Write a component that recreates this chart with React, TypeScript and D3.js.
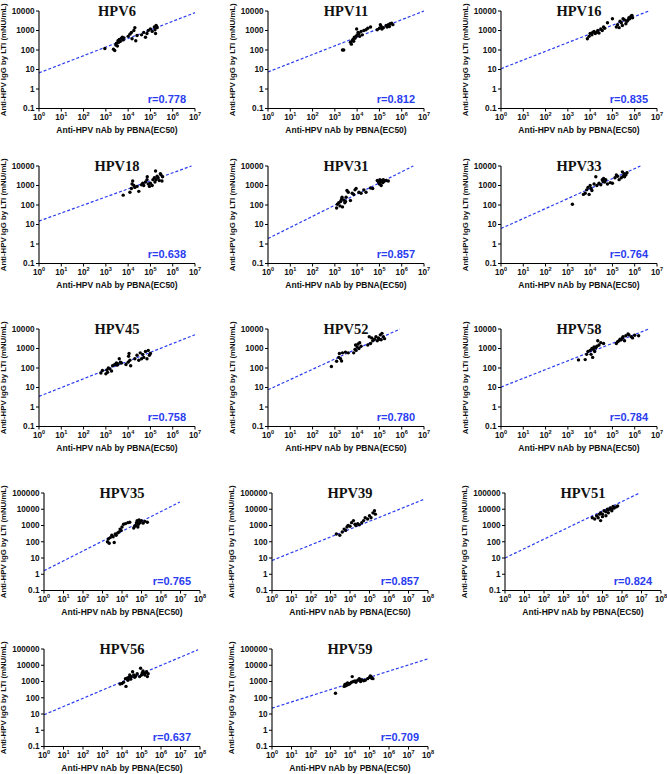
import React from 'react';
import * as d3 from 'd3';

type Pt = [number, number];

const panelNames = ['HPV6', 'HPV11', 'HPV16', 'HPV18', 'HPV31', 'HPV33', 'HPV45', 'HPV52', 'HPV58', 'HPV35', 'HPV39', 'HPV51', 'HPV56', 'HPV59'];
const rValues = ['0.778', '0.812', '0.835', '0.638', '0.857', '0.764', '0.758', '0.780', '0.784', '0.765', '0.857', '0.824', '0.637', '0.709'];
const xMaxExp = [7, 7, 7, 7, 7, 7, 7, 7, 7, 8, 8, 8, 8, 8];
const yMaxExp = [4, 4, 4, 4, 4, 4, 4, 4, 4, 5, 5, 5, 5, 5];
const lineStart: Pt[] = [[1, 6.7], [1, 7.5], [1, 11], [1, 15], [1, 1.9], [1, 6.2], [1, 3.5], [1, 7.6], [1, 10.5], [1, 1.65], [1, 7], [1, 10], [1, 9], [1, 23]];
const lineEnd: Pt[] = [[1e7, 8200], [1e7, 10000], [4.3e6, 10000], [7e6, 10000], [3.3e6, 10000], [1.8e6, 10000], [1e7, 5100], [8.3e5, 10000], [4.3e6, 10000], [9.3e6, 28000], [6e7, 40000], [8e6, 100000], [8e7, 90000], [1e8, 25000]];

const hpv6: Pt[] = [[900, 120], [2200, 110], [2500, 95], [2800, 180], [3000, 220], [3300, 160], [3500, 300], [3800, 250], [4000, 350], [4500, 280], [5000, 400], [5500, 450], [6000, 330], [6500, 420], [10000, 500], [12000, 650], [14000, 800], [15000, 380], [18000, 1000], [20000, 1400], [22000, 300], [25000, 550], [40000, 600], [50000, 800], [60000, 450], [70000, 700], [80000, 1000], [100000, 1200], [120000, 900], [150000, 1500], [160000, 1100], [180000, 1800], [200000, 1400], [170000, 700], [190000, 1600]];
const hpv11: Pt[] = [[2200, 100], [2500, 100], [5000, 250], [5500, 200], [6000, 300], [6500, 350], [7000, 280], [7500, 450], [8000, 400], [9000, 500], [9500, 1200], [10000, 600], [11000, 800], [12000, 700], [13000, 500], [15000, 900], [17000, 600], [20000, 1000], [25000, 1100], [30000, 1300], [40000, 1500], [80000, 1100], [100000, 1300], [110000, 2000], [120000, 1600], [130000, 1200], [150000, 1400], [200000, 1800], [220000, 1500], [250000, 2000], [280000, 1600], [300000, 2200], [350000, 2400], [400000, 2000]];
const hpv16: Pt[] = [[7500, 380], [9000, 500], [10000, 700], [12000, 600], [13000, 800], [15000, 900], [17000, 700], [20000, 800], [22000, 1000], [25000, 750], [30000, 1200], [35000, 1000], [40000, 1500], [45000, 1300], [60000, 2500], [100000, 4000], [150000, 1500], [170000, 2000], [200000, 1400], [220000, 3000], [250000, 2500], [280000, 1800], [300000, 4000], [350000, 3500], [400000, 2200], [450000, 3000], [500000, 3500], [550000, 4500], [600000, 4000], [650000, 5000], [700000, 5500], [750000, 6000], [800000, 4500]];
const hpv18: Pt[] = [[6000, 320], [12000, 450], [14000, 700], [15000, 1200], [16000, 1700], [18000, 1000], [20000, 800], [25000, 900], [30000, 500], [40000, 1100], [45000, 1300], [50000, 1000], [60000, 1500], [70000, 2000], [72000, 2800], [80000, 1200], [90000, 900], [100000, 1300], [120000, 1000], [130000, 2000], [150000, 2500], [160000, 1500], [170000, 5500], [180000, 2000], [200000, 3000], [220000, 2500], [250000, 1800], [280000, 4000], [300000, 3500], [330000, 1700], [350000, 2800]];
const hpv31: Pt[] = [[1200, 70], [1300, 110], [1500, 130], [1700, 90], [1800, 150], [2000, 200], [2100, 250], [2200, 80], [2500, 180], [2800, 130], [3000, 150], [3200, 250], [3500, 550], [4000, 450], [5000, 170], [6000, 400], [7000, 350], [8000, 600], [9000, 700], [12000, 450], [15000, 400], [20000, 600], [25000, 450], [40000, 750], [50000, 700], [80000, 1800], [90000, 1500], [100000, 1200], [105000, 2000], [110000, 1600], [120000, 1000], [130000, 1800], [140000, 1400], [150000, 2000], [160000, 1600], [200000, 1800], [250000, 1700]];
const hpv33: Pt[] = [[1600, 110], [5000, 350], [6000, 400], [7000, 600], [8000, 800], [9000, 350], [10000, 1000], [11000, 700], [12000, 550], [15000, 1200], [18000, 2800], [20000, 1000], [25000, 1300], [30000, 1100], [35000, 2000], [38000, 1600], [40000, 2300], [42000, 1800], [45000, 1500], [50000, 2000], [60000, 1200], [80000, 1400], [100000, 1300], [130000, 2500], [150000, 3500], [170000, 3000], [200000, 2000], [250000, 2500], [280000, 5000], [300000, 3000], [330000, 4000], [350000, 2800], [400000, 3500], [450000, 4500]];
const hpv45: Pt[] = [[600, 55], [700, 75], [1000, 50], [1100, 80], [1200, 60], [1300, 100], [1500, 90], [1800, 70], [2000, 130], [2500, 150], [3000, 180], [3200, 140], [3500, 160], [4000, 300], [4500, 200], [5000, 180], [8000, 150], [10000, 200], [10500, 400], [11000, 550], [12000, 250], [13000, 130], [20000, 300], [25000, 450], [30000, 250], [35000, 600], [40000, 300], [45000, 500], [50000, 350], [60000, 700], [70000, 300], [80000, 800], [90000, 450], [100000, 550]];
const hpv52: Pt[] = [[700, 120], [1200, 220], [1500, 350], [1600, 550], [1800, 300], [2000, 230], [2200, 600], [3000, 650], [4000, 600], [7000, 600], [8000, 900], [8500, 1500], [9000, 800], [10000, 1200], [11000, 1700], [12000, 1000], [13000, 2000], [15000, 1300], [30000, 1500], [35000, 4000], [40000, 1800], [45000, 3500], [50000, 2500], [60000, 3000], [70000, 4000], [80000, 2500], [90000, 3500], [100000, 3000], [110000, 5000], [120000, 2800], [130000, 6000], [150000, 4000], [170000, 3200]];
const hpv58: Pt[] = [[3000, 260], [6000, 270], [7000, 500], [8000, 700], [10000, 800], [11000, 500], [12000, 1000], [13000, 350], [14000, 900], [15000, 1200], [16000, 700], [18000, 1100], [20000, 1300], [22000, 2500], [25000, 1500], [30000, 2000], [40000, 1800], [150000, 1800], [170000, 2200], [200000, 2500], [220000, 3000], [250000, 2800], [280000, 3500], [300000, 4000], [350000, 2500], [400000, 4500], [500000, 5500], [550000, 5000], [700000, 4000], [800000, 3500], [1000000, 4800], [1500000, 4500]];
const hpv35: Pt[] = [[1800, 100], [2000, 150], [2200, 80], [2500, 180], [3000, 250], [3500, 200], [4000, 90], [4500, 300], [5000, 250], [6000, 350], [7000, 400], [8000, 600], [9000, 500], [10000, 800], [12000, 1200], [15000, 1300], [20000, 1500], [25000, 1600], [40000, 700], [45000, 900], [50000, 1000], [55000, 1500], [60000, 2000], [65000, 800], [70000, 1200], [75000, 2200], [80000, 1500], [90000, 1800], [100000, 2000], [120000, 1400], [150000, 1800], [200000, 1600]];
const hpv39: Pt[] = [[2000, 300], [3000, 250], [4000, 400], [5000, 600], [6000, 500], [7000, 800], [8000, 1000], [10000, 900], [12000, 1500], [15000, 2000], [18000, 1200], [20000, 1000], [25000, 1300], [30000, 1100], [40000, 1500], [50000, 2000], [60000, 3000], [80000, 2500], [100000, 4000], [120000, 3000], [150000, 6000], [200000, 5000], [180000, 8000]];
const hpv51: Pt[] = [[30000, 3000], [40000, 2500], [50000, 4000], [60000, 3000], [70000, 5000], [80000, 6000], [100000, 5000], [120000, 8000], [150000, 7000], [180000, 10000], [200000, 9000], [250000, 12000], [300000, 10000], [350000, 15000], [400000, 12000], [500000, 14000], [600000, 16000], [100000, 3500], [150000, 4000], [80000, 2000], [200000, 6000], [300000, 8000]];
const hpv56: Pt[] = [[8000, 700], [10000, 750], [12000, 900], [15000, 1500], [16000, 500], [18000, 1600], [20000, 1200], [22000, 1800], [25000, 2500], [28000, 1400], [30000, 2000], [35000, 4000], [40000, 2500], [45000, 1800], [50000, 2200], [60000, 3000], [80000, 2000], [90000, 6500], [100000, 2500], [110000, 3500], [120000, 4500], [130000, 3000], [150000, 2500], [160000, 3500], [180000, 4000], [200000, 2000], [220000, 3000]];
const hpv59: Pt[] = [[1800, 190], [5000, 500], [5500, 650], [6000, 550], [6500, 700], [7000, 600], [7500, 800], [8000, 650], [9000, 700], [10000, 750], [12000, 900], [13000, 2000], [15000, 1000], [18000, 1100], [20000, 900], [25000, 1200], [30000, 1500], [35000, 1000], [40000, 1300], [50000, 1100], [60000, 1200], [80000, 1500], [100000, 1800], [110000, 2200], [120000, 2000], [130000, 1600], [150000, 1500]];

const panelData: Pt[][] = [hpv6, hpv11, hpv16, hpv18, hpv31, hpv33, hpv45, hpv52, hpv58, hpv35, hpv39, hpv51, hpv56, hpv59];

const yTitle = 'Anti-HPV IgG by LTI (mNU/mL)';
const xTitle = 'Anti-HPV nAb by PBNA(EC50)';

const BLUE = '#2a3cf0';
const SANS = '"Liberation Sans", Arial, sans-serif';
const SERIF = '"Liberation Serif", "Times New Roman", serif';
const W = 156;
const H = 97.5;
const rowTops = [11, 166, 329, 493, 649];
const colLeftsA = [39, 268, 501];
const colLeftsB = [44, 272, 505];

function Panel({ idx }: { idx: number }) {
  const row = Math.floor(idx / 3);
  const col = idx % 3;
  const left = row < 3 ? colLeftsA[col] : colLeftsB[col];
  const top = rowTops[row];
  const xMax = xMaxExp[idx];
  const yMax = yMaxExp[idx];
  const x = d3.scaleLog().domain([1, 10 ** xMax]).range([0, W]);
  const y = d3.scaleLog().domain([0.1, 10 ** yMax]).range([H, 0]);
  const xTicks = d3.range(0, xMax + 1);
  const yTicks = d3.range(-1, yMax + 1);
  const line = d3.line<Pt>().x(d => x(d[0])).y(d => y(d[1]));
  const yTitleOff = yMax === 5 ? -38 : -33;
  return (
    <g transform={`translate(${left},${top})`}>
      <text x={W / 2} y={5} textAnchor="middle" fontFamily={SERIF} fontWeight="bold" fontSize={14.5} fill="#111">{panelNames[idx]}</text>
      <path d={line([lineStart[idx], lineEnd[idx]]) || ''} fill="none" stroke={BLUE} strokeWidth={1.2} strokeDasharray="3,2" />
      {panelData[idx].map((d, i) => (
        <circle key={i} cx={x(d[0])} cy={y(d[1])} r={1.7} fill="#000" />
      ))}
      <line x1={0} x2={W} y1={H} y2={H} stroke="#000" strokeWidth={1.1} />
      <line x1={0} x2={0} y1={0} y2={H} stroke="#000" strokeWidth={1.1} />
      {xTicks.map(e => (
        <g key={e} transform={`translate(${x(10 ** e)},${H})`}>
          <line y1={0} y2={3} stroke="#000" strokeWidth={1} />
          <text y={11} textAnchor="middle" fontFamily={SANS} fontWeight="bold" fontSize={8.2} fill="#111">
            10<tspan dy={-3.5} fontSize={5.6}>{e}</tspan>
          </text>
        </g>
      ))}
      {yTicks.map(e => (
        <g key={e} transform={`translate(0,${y(10 ** e)})`}>
          <line x1={-3} x2={0} stroke="#000" strokeWidth={1} />
          <text x={-4.5} dy="0.35em" textAnchor="end" fontFamily={SANS} fontWeight="bold" fontSize={8.2} fill="#111">
            {e < 0 ? '0.1' : String(10 ** e)}
          </text>
        </g>
      ))}
      <text x={W / 2} y={H + 24} textAnchor="middle" fontFamily={SANS} fontWeight="bold" fontSize={8.5} fill="#111">{xTitle}</text>
      <text transform={`translate(${yTitleOff},${H / 2}) rotate(-90)`} textAnchor="middle" fontFamily={SANS} fontWeight="bold" fontSize={7.8} fill="#111">{yTitle}</text>
      <text x={W - 9} y={H - 6} textAnchor="end" fontFamily={SANS} fontWeight="bold" fontSize={11} fill={BLUE}>r={rValues[idx]}</text>
    </g>
  );
}

export default function App() {
  return (
    <svg width={667} height={774} style={{ position: 'absolute', left: 0, top: 0, background: '#fff' }}>
      <rect width={667} height={774} fill="#fff" />
      {panelNames.map((_, i) => (
        <Panel key={i} idx={i} />
      ))}
    </svg>
  );
}
